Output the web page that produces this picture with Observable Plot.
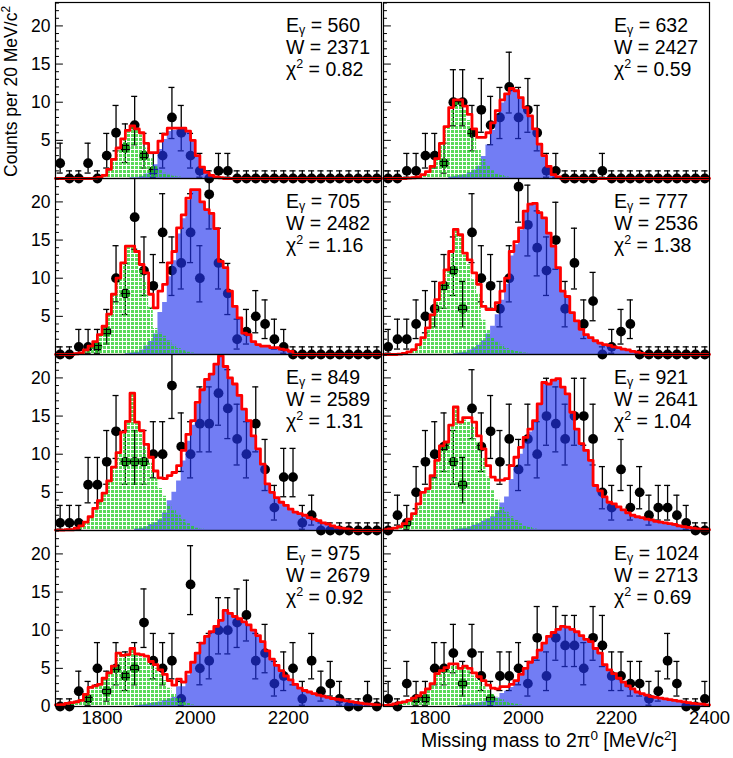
<!DOCTYPE html>
<html>
<head>
<meta charset="utf-8">
<script src="https://cdn.jsdelivr.net/npm/d3@7"></script>
<script src="https://cdn.jsdelivr.net/npm/@observablehq/plot@0.6"></script>
<style>
  body { margin: 0; background: #fff; }
  #root { position: relative; width: 733px; height: 758px; overflow: hidden;
          font-family: "Liberation Sans", Arial, Helvetica, sans-serif; color: #000; }
  #root svg.plotpanel { position: absolute; overflow: visible; }
  .ann { position: absolute; font-size: 19.5px; line-height: 19px; white-space: nowrap; }
  .ann .sub { font-size: 12.5px; line-height: 0; position: relative; top: 2px; }
  .ann .sup { font-size: 12.5px; line-height: 0; position: relative; top: -8px; }
</style>
</head>
<body>
<div id="root"></div>
<script>
// ---------------- data ----------------
// data bin centres (20 MeV bins)
const dataMass = [1710,1730,1750,1770,1790,1810,1830,1850,1870,1890,1910,1930,1950,1970,1990,2010,2030,2050,2070,2090,2110,2130,2150,2170,2190,2210,2230,2250,2270,2290,2310,2330,2350,2370,2390];
// fit histogram bin edges (10 MeV bins)
const fitEdges = [1700,1710,1720,1730,1740,1750,1760,1770,1780,1790,1800,1810,1820,1830,1840,1850,1860,1870,1880,1890,1900,1910,1920,1930,1940,1950,1960,1970,1980,1990,2000,2010,2020,2030,2040,2050,2060,2070,2080,2090,2100,2110,2120,2130,2140,2150,2160,2170,2180,2190,2200,2210,2220,2230,2240,2250,2260,2270,2280,2290,2300,2310,2320,2330,2340,2350,2360,2370,2380,2390,2400];

const beamEnergy = [560, 632, 705, 777, 849, 921, 975, 1024];
const cmsEnergy  = [2371, 2427, 2482, 2536, 2589, 2641, 2679, 2713];
const chiSquare  = ["0.82", "0.59", "1.16", "1.38", "1.31", "1.04", "0.92", "0.69"];

const yTickLabels = [5, 10, 15, 20];
const yTickLabelsBottom = [0, 5, 10, 15, 20];
const yMajorTicks = [0, 5, 10, 15, 20];
const yMinorTicks = [1,2,3,4,6,7,8,9,11,12,13,14,16,17,18,19,21,22,23];
const xTickLabelsLeft = [1800, 2000, 2200];
const xTickLabelsRight = [1800, 2000, 2200, 2400];

const counts560  = [2,0,0,2,0,3,6,4,7,3,1,3,8,6,3,1,0,1,1,0,0,0,0,0,0,0,0,0,0,0,0,0,0,0,0];
const counts632  = [0,0,1,1,3,3,2,10,10,6,9,7,8,12,8,9,6,1,1,0,0,0,0,1,0,0,0,0,0,0,0,0,0,0,0];
const counts705  = [0,0,1,1,1,3,10,8,18,11,9,16,11,12,16,10,21,12,8,2,3,5,4,2,1,0,0,0,0,0,0,0,0,0,0];
const counts777  = [1,2,2,4,5,6,9,11,6,16,10,9,6,10,22,17,14,11,15,6,12,4,7,0,1,3,4,0,0,0,0,0,0,0,0];
const counts849  = [1,1,1,6,6,9,13,9,9,9,10,10,19,11,10,14,14,18,16,12,10,14,8,3,7,7,1,2,0,0,0,0,0,0,0];
const counts921  = [0,2,1,5,9,10,11,9,6,16,11,13,9,12,8,12,10,15,14,12,15,15,12,5,3,8,3,5,2,3,3,2,1,0,0];
const counts975  = [0,0,2,1,5,2,5,4,5,11,6,5,6,1,16,5,6,10,10,11,12,6,7,3,4,5,1,6,2,3,1,0,0,1,0];
const counts1024 = [1,0,3,1,1,5,5,7,3,7,4,1,4,4,5,3,9,4,9,8,8,5,9,8,4,4,3,3,1,2,6,3,0,0,1];

const green560 = [
  0,0,0,0,0,0,0,0,0.05,0.15,
  0.4,1.2,2.5,4.0,5.2,6.3,6.8,6.4,5.7,4.0,
  2.6,1.6,1.1,0.7,0.45,0.3,0.2,0.1,0.05,0,
  0,0,0,0,0,0,0,0,0,0,
  0,0,0,0,0,0,0,0,0,0,
  0,0,0,0,0,0,0,0,0,0,
  0,0,0,0,0,0,0,0,0,0];
const blue560 = [
  0,0,0,0,0,0,0,0,0,0,
  0,0,0,0,0,0,0.1,0.1,0.3,0.6,
  0.8,1.8,3.8,5.1,6.15,6.3,6.4,6.5,6.15,5.0,
  3.0,1.5,0.8,0.4,0.2,0.1,0,0,0,0,
  0,0,0,0,0,0,0,0,0,0,
  0,0,0,0,0,0,0,0,0,0,
  0,0,0,0,0,0,0,0,0,0];

const green632 = [
  0,0,0,0,0,0.05,0.1,0.2,0.5,0.9,
  1.6,2.6,4.6,6.8,9.1,10.0,9.9,9.0,7.6,5.4,
  3.8,2.5,1.6,1.0,0.6,0.4,0.2,0.1,0,0,
  0,0,0,0,0,0,0,0,0,0,
  0,0,0,0,0,0,0,0,0,0,
  0,0,0,0,0,0,0,0,0,0,
  0,0,0,0,0,0,0,0,0,0];
const blue632 = [
  0,0,0,0,0,0,0,0,0,0,
  0,0,0,0,0.2,0.3,0.4,0.5,0.8,1.1,
  1.6,2.9,4.4,6.3,8.3,9.9,10.9,11.7,11.5,10.6,
  9.3,8.2,6.5,4.5,3.0,1.6,0.5,0.2,0,0,
  0,0,0,0,0,0,0,0,0,0,
  0,0,0,0,0,0,0,0,0,0,
  0,0,0,0,0,0,0,0,0,0];

const green705 = [
  0,0,0,0,0.1,0.2,0.6,1.1,1.7,2.6,
  3.7,5.3,7.9,10.0,12.0,14.1,14.0,13.2,11.2,9.6,
  6.2,3.4,2.8,2.4,1.8,1.2,0.8,0.5,0.3,0.2,
  0.1,0,0,0,0,0,0,0,0,0,
  0,0,0,0,0,0,0,0,0,0,
  0,0,0,0,0,0,0,0,0,0,
  0,0,0,0,0,0,0,0,0,0];
const blue705 = [
  0,0,0,0,0,0,0,0,0,0,
  0,0,0,0,0,0.1,0.2,0.3,0.6,1.1,
  1.7,2.7,5.5,6.8,10.2,12.3,15.8,17.8,20.2,21.4,
  21.5,20.0,19.0,18.5,16.5,12.2,11.4,8.3,6.3,4.8,
  2.8,2.6,1.7,1.3,1.1,1.1,0.9,0.9,0.7,0.6,
  0.4,0,0,0,0,0,0,0,0,0,
  0,0,0,0,0,0,0,0,0,0];

const green777 = [
  0,0,0,0.05,0.15,0.35,0.65,1.3,2.2,3.5,
  5.2,7.2,9.4,11.1,13.5,16.3,15.5,13.0,11.8,9.8,
  8.0,4.5,3.2,2.2,1.6,1.2,0.8,0.6,0.4,0.3,
  0.2,0.1,0,0,0,0,0,0,0,0,
  0,0,0,0,0,0,0,0,0,0,
  0,0,0,0,0,0,0,0,0,0,
  0,0,0,0,0,0,0,0,0,0];
const blue777 = [
  0,0,0,0,0,0,0,0,0,0,
  0,0,0,0,0,0.1,0.2,0.3,0.6,0.9,
  1.2,1.8,2.7,3.7,5.2,7.1,9.2,12.9,14.4,16.3,
  18.6,19.6,19.8,18.6,17.9,15.9,14.2,11.4,8.3,7.6,
  5.5,4.4,3.3,2.6,2.2,1.8,1.5,1.3,1.2,1.0,
  0.9,0.7,0.6,0.4,0.3,0.15,0,0,0,0,
  0,0,0,0,0,0,0,0,0,0];

const green849 = [
  0.05,0.05,0.1,0.1,0.3,0.6,1.1,1.8,2.9,3.9,
  4.9,6.5,8.3,10.2,12.9,14.3,18.0,14.0,12.8,10.8,
  8.8,6.8,5.5,4.5,3.3,2.6,2.0,1.4,0.9,0.6,
  0.3,0.15,0,0,0,0,0,0,0,0,
  0,0,0,0,0,0,0,0,0,0,
  0,0,0,0,0,0,0,0,0,0,
  0,0,0,0,0,0,0,0,0,0];
const blue849 = [
  0,0,0,0,0,0,0,0,0,0,
  0,0,0,0,0,0,0,0.2,0.3,0.5,
  0.8,1.0,1.4,2.3,3.9,5.0,6.5,9.1,11.7,13.8,
  16.5,18.3,19.8,20.5,21.8,22.9,21.5,20.0,19.2,17.7,
  15.9,14.4,12.4,10.7,8.7,6.1,5.0,4.3,3.7,3.3,
  2.8,2.4,2.2,2.0,1.7,1.5,1.3,1.0,0.85,0.6,
  0.4,0.3,0.2,0.1,0,0,0,0,0,0];

const green921 = [
  0.1,0.2,0.3,0.5,0.9,1.5,2.2,3.5,5.0,5.5,
  7.2,9.2,11.1,11.6,13.8,16.1,14.0,14.5,14.3,13.5,
  11.5,9.5,7.0,5.2,4.0,3.0,2.4,1.8,1.3,0.9,
  0.6,0.4,0.2,0.1,0,0,0,0,0,0,
  0,0,0,0,0,0,0,0,0,0,
  0,0,0,0,0,0,0,0,0,0,
  0,0,0,0,0,0,0,0,0,0];
const blue921 = [
  0,0,0,0,0,0,0,0,0,0,
  0,0,0,0,0,0.1,0.2,0.3,0.5,0.7,
  0.9,1.2,1.5,1.8,2.6,3.6,4.4,6.7,8.3,10.0,
  11.6,12.9,14.2,16.5,19.4,19.2,19.7,19.9,18.8,17.9,
  15.5,13.3,11.4,10.5,9.2,5.9,5.2,4.4,3.7,3.5,
  3.1,2.7,2.3,2.0,1.8,1.7,1.5,1.4,1.2,1.1,
  1.0,0.9,0.8,0.6,0.5,0.4,0.3,0.2,0.1,0.1];

const green975 = [
  0.2,0.25,0.4,0.5,0.6,0.8,1.6,2.5,2.7,2.9,
  3.7,4.4,5.3,7.0,6.7,6.8,7.6,6.8,6.6,6.3,
  5.5,5.0,4.2,3.4,2.4,1.6,1.0,0.6,0.4,0.2,
  0.1,0,0,0,0,0,0,0,0,0,
  0,0,0,0,0,0,0,0,0,0,
  0,0,0,0,0,0,0,0,0,0,
  0,0,0,0,0,0,0,0,0,0];
const blue975 = [
  0,0,0,0,0,0,0,0,0,0,
  0,0,0,0,0,0,0,0.1,0.2,0.3,
  0.4,0.5,0.6,0.8,1.0,1.2,2.6,2.6,4.1,5.6,
  6.9,8.3,9.2,9.8,10.5,11.3,12.6,12.2,11.8,11.5,
  11.1,10.7,10.0,9.3,8.5,7.3,6.2,5.4,4.7,4.0,
  3.5,2.9,2.4,2.1,1.9,1.7,1.5,1.35,1.2,1.05,
  0.95,0.85,0.75,0.65,0.55,0.45,0.35,0.3,0.25,0.2];

const green1024 = [
  0.15,0.2,0.35,0.5,0.6,0.8,1.1,1.4,1.8,2.3,
  3.0,4.3,4.7,5.1,5.6,5.6,4.9,5.1,4.7,4.0,
  3.4,2.8,2.1,1.6,1.2,0.9,0.6,0.4,0.3,0.2,
  0.1,0,0,0,0,0,0,0,0,0,
  0,0,0,0,0,0,0,0,0,0,
  0,0,0,0,0,0,0,0,0,0,
  0,0,0,0,0,0,0,0,0,0];
const blue1024 = [
  0,0,0,0,0,0,0,0,0,0,
  0,0,0,0,0,0,0.1,0.2,0.3,0.4,
  0.5,0.6,0.7,0.8,1.1,1.7,2.0,2.5,3.1,4.0,
  4.9,5.8,6.4,7.4,8.3,9.2,9.7,10.1,10.5,10.4,
  10.1,9.8,9.3,8.8,8.5,7.6,7.0,5.5,4.8,4.3,
  3.7,3.2,2.7,2.3,1.9,1.7,1.5,1.3,1.2,1.1,
  1.0,0.9,0.8,0.7,0.6,0.5,0.4,0.35,0.3,0.2];

const panelCounts = [counts560, counts632, counts705, counts777, counts849, counts921, counts975, counts1024];
const panelGreen  = [green560, green632, green705, green777, green849, green921, green975, green1024];
const panelBlue   = [blue560, blue632, blue705, blue777, blue849, blue921, blue975, blue1024];

// ---------------- layout ----------------
const PW = 326, PH = 176;
const colX = [55, 383];
const rowTop = [2, 178, 354, 530];
const YMAX = 23.07;
const CAP = 6.5;          // half-width of error-bar caps (MeV)
const TICK_MAJOR = 17;    // tick lengths (MeV)
const TICK_MINOR = 8.5;
const FONT = "Liberation Sans, Arial, Helvetica, sans-serif";

// Poisson (Garwood, 68.27%) interval limits via Wilson-Hilferty chi2 quantiles
function upperLimit(n) {
  if (n === 0) return 1;
  const k = 2 * n + 2, a = 2 / (9 * k);
  return 0.5 * k * Math.pow(1 - a + Math.sqrt(a), 3);
}
function lowerLimit(n) {
  if (n === 0) return 0;
  const k = 2 * n, a = 2 / (9 * k);
  return 0.5 * k * Math.pow(1 - a - Math.sqrt(a), 3);
}

const root = document.getElementById("root");

// green fill pattern (ROOT-like grid)
root.insertAdjacentHTML("beforeend", `
<svg width="0" height="0" style="position:absolute">
  <defs>
    <pattern id="patGreen" width="4" height="4" patternUnits="userSpaceOnUse">
      <rect x="0" y="0" width="3" height="3" fill="#22cc22" fill-opacity="0.75"/>
    </pattern>
  </defs>
</svg>`);

for (let k = 0; k < 8; k++) {
  const row = Math.floor(k / 2), col = k % 2;
  const counts = panelCounts[k], green = panelGreen[k], blue = panelBlue[k];

  const pts = dataMass.map((m, i) => {
    const n = counts[i];
    const hiRaw = upperLimit(n);
    return {m, n, lo: lowerLimit(n), hi: Math.min(hiRaw, YMAX), capHi: hiRaw <= YMAX};
  });
  const stepOf = (vals) => {
    const s = vals.map((v, j) => ({x: fitEdges[j], v: Math.min(v, YMAX)}));
    s.push({x: fitEdges[vals.length], v: Math.min(vals[vals.length - 1], YMAX)});
    return s;
  };
  const total = green.map((g, j) => g + blue[j]);

  const marks = [
    Plot.ruleX(pts, {x: "m", y1: "lo", y2: "hi", stroke: "#000", strokeWidth: 1.3}),
    Plot.ruleY(pts.filter(d => d.capHi), {y: "hi", x1: d => d.m - CAP, x2: d => d.m + CAP, stroke: "#000", strokeWidth: 1.3}),
    Plot.ruleY(pts.filter(d => d.n > 0), {y: "lo", x1: d => d.m - CAP, x2: d => d.m + CAP, stroke: "#000", strokeWidth: 1.3}),
    Plot.dot(pts, {x: "m", y: "n", r: 4.9, fill: "#000"}),
    Plot.areaY(stepOf(blue), {x: "x", y: "v", curve: "step-after", fill: "#2234ee", fillOpacity: 0.64}),
    Plot.areaY(stepOf(green), {x: "x", y: "v", curve: "step-after", fill: "url(#patGreen)"}),
    Plot.lineY(stepOf(total), {x: "x", y: "v", curve: "step-after", stroke: "#ff0000", strokeWidth: 2.8}),
    Plot.frame({stroke: "#000", strokeWidth: 1.2}),
    Plot.ruleY(yMajorTicks, {y: d => d, x1: 1700, x2: 1700 + TICK_MAJOR, stroke: "#000", strokeWidth: 1}),
    Plot.ruleY(yMinorTicks, {y: d => d, x1: 1700, x2: 1700 + TICK_MINOR, stroke: "#000", strokeWidth: 1})
  ];
  if (col === 0) {
    marks.push(Plot.text(row === 3 ? yTickLabelsBottom : yTickLabels,
      {x: 1700, y: d => d, text: d => String(d), textAnchor: "end", dx: -5, fontSize: 17.5, fill: "#000"}));
  }
  if (row === 3) {
    marks.push(Plot.text(col === 0 ? xTickLabelsLeft : xTickLabelsRight,
      {x: d => d, y: 0, text: d => String(d), lineAnchor: "top", dy: 4.5, fontSize: 18.5, fill: "#000"}));
  }

  const svg = Plot.plot({
    width: PW, height: PH,
    marginTop: 0, marginRight: 0, marginBottom: 0, marginLeft: 0,
    x: {domain: [1700, 2400], axis: null},
    y: {domain: [0, YMAX], axis: null},
    style: {background: "transparent", overflow: "visible", fontFamily: FONT},
    marks
  });
  svg.classList.add("plotpanel");
  svg.style.left = colX[col] + "px";
  svg.style.top = rowTop[row] + "px";
  root.appendChild(svg);

  // three annotation lines, each its own element (baselines at +30, +52, +74.5)
  const lines = [
    `E<span class="sub">γ</span> = ${beamEnergy[k]}`,
    `W = ${cmsEnergy[k]}`,
    `χ<span class="sup">2</span> = ${chiSquare[k]}`
  ];
  const baselines = [30, 52, 74.5];
  lines.forEach((html, li) => {
    const ann = document.createElement("div");
    ann.className = "ann";
    ann.style.left = (colX[col] + 231) + "px";
    ann.style.top = (rowTop[row] + baselines[li] - 16.2) + "px";
    ann.innerHTML = html;
    root.appendChild(ann);
  });
}

// axis titles
root.insertAdjacentHTML("beforeend", `
<svg width="733" height="758" style="position:absolute;left:0;top:0;pointer-events:none;overflow:visible" font-family="${FONT}">
  <text transform="translate(17,177) rotate(-90)" font-size="17.5" fill="#000">Counts per 20 MeV/c<tspan font-size="12" baseline-shift="super">2</tspan></text>
  <text x="677" y="747" text-anchor="end" font-size="19.5" fill="#000">Missing mass to 2π<tspan font-size="13.5" baseline-shift="super">0</tspan><tspan> [MeV/c</tspan><tspan font-size="13.5" baseline-shift="super">2</tspan><tspan>]</tspan></text>
</svg>`);
</script>
</body>
</html>
